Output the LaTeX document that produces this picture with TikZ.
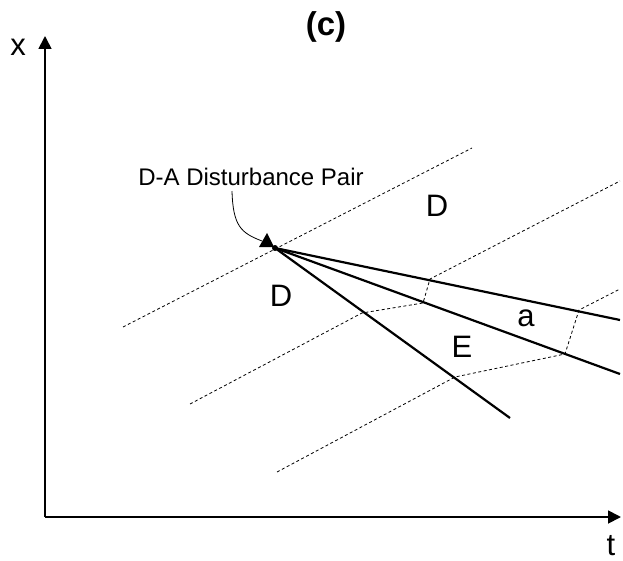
\documentclass[tikz,border=0pt]{standalone}
\usepackage{fontspec}
\setmainfont{Liberation Sans}
\usetikzlibrary{arrows.meta, positioning}

\begin{document}
\begin{tikzpicture}[
  x=1pt, y=-1pt,
  every node/.style = {font=\fontsize{31}{35}\selectfont, inner sep=0pt},
  axis/.style = {-{Triangle[length=13pt, width=13pt]}, line width=1.8pt},
  front/.style = {line width=2.2pt},
  wave/.style = {line width=0.8pt, dash pattern=on 3pt off 2.5pt},
  tag/.style = {font=\fontsize{24}{28}\selectfont}
]
\useasboundingbox (0,0) rectangle (623,561);

% Axes
\coordinate (O) at (45,517);
\coordinate (xtip) at (45,36);
\coordinate (ttip) at (621,517);
\draw[axis] (O) -- (xtip);
\draw[axis] (O) -- (ttip);
\node (xlab) at (18,47) {x};
\node[below=18pt of ttip, xshift=-10pt] (tlab) {t};
\node[font=\fontsize{33}{37}\selectfont\bfseries] (title) at (326,27) {(c)};

% Disturbance pair and fronts
\node[circle, fill, minimum size=6pt] (pair) at (275,248) {};
\coordinate (f1) at (620,320);
\coordinate (f2) at (620,374);
\coordinate (f3) at (510,418);
\draw[front] (pair.center) -- (f1);
\draw[front] (pair.center) -- (f2);
\draw[front] (pair.center) -- (f3);

% Dashed wavelets
\draw[wave] (123,327) -- (472,148);
\draw[wave] (190,404) -- (362,313) -- (423,303) -- (430,279) -- (620,181);
\draw[wave] (277,472) -- (455,377) -- (565,354) -- (579,310) -- (620,289);

% Region labels
\node (dtop) at (437,206) {D};
\node (dbot) at (281,296) {D};
\node (alab) at (526,318) {a};
\node (elab) at (462,347) {E};

% Pointer
\node[tag] (pairlab) at (251,177) {D-A Disturbance Pair};
\draw[line width=0.8pt] ([shift={(-19,5)}]pairlab.south)
  .. controls (233,226) and (241,233) .. (262,241);
\fill (267,233) -- (259,247) -- (274,247) -- cycle;

\end{tikzpicture}
\end{document}
